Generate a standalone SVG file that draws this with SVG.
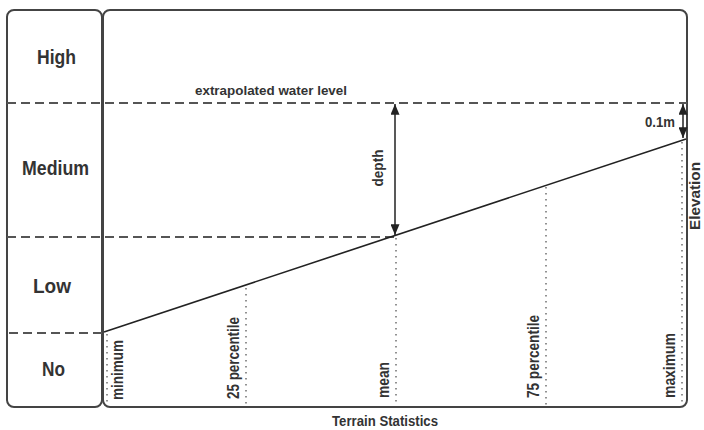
<svg xmlns="http://www.w3.org/2000/svg" width="704" height="430" viewBox="0 0 704 430">
<style>
.box{fill:none;stroke:#444;stroke-width:2}
.dash{fill:none;stroke:#555;stroke-width:2;stroke-dasharray:9 5}
.dot{fill:none;stroke:#777;stroke-width:1.6;stroke-dasharray:1.5 4.5}
.slope{fill:none;stroke:#222;stroke-width:1.6}
.arr{fill:none;stroke:#222;stroke-width:1.5}
.cat{font-family:"Liberation Sans",Arial,sans-serif;font-weight:bold;font-size:20px;fill:#333;text-anchor:middle}
.lbl{font-family:"Liberation Sans",Arial,sans-serif;font-weight:bold;font-size:13px;fill:#333}
.rot{font-family:"Liberation Sans",Arial,sans-serif;font-weight:bold;font-size:16px;fill:#333}
.ttl{font-family:"Liberation Sans",Arial,sans-serif;font-weight:bold;font-size:14px;fill:#333}
</style>
<defs>
<marker id="ah" viewBox="0 0 12 10" refX="12" refY="5" markerWidth="11" markerHeight="9" markerUnits="userSpaceOnUse" orient="auto-start-reverse">
<path d="M0,0 L12,5 L0,10 z" fill="#222"/>
</marker>
</defs>
<rect width="704" height="430" fill="#fff"/>
<g id="scale">
<rect class="box" x="7" y="10" width="95" height="397" rx="7"/>
<text class="cat" x="56.5" y="64" textLength="39" lengthAdjust="spacingAndGlyphs">High</text>
<text class="cat" x="55.5" y="175" textLength="67" lengthAdjust="spacingAndGlyphs">Medium</text>
<text class="cat" x="52" y="293" textLength="38" lengthAdjust="spacingAndGlyphs">Low</text>
<text class="cat" x="53.5" y="376" textLength="23" lengthAdjust="spacingAndGlyphs">No</text>
</g>
<g id="chart">
<rect class="box" x="103" y="10" width="584" height="397" rx="7"/>
<line class="dash" x1="7" y1="103" x2="687" y2="103"/>
<line class="dash" x1="7" y1="237" x2="395" y2="237"/>
<line class="dash" x1="9" y1="333" x2="104" y2="333"/>
<line class="slope" x1="104" y1="332" x2="686" y2="139"/>
<line class="dot" x1="107" y1="334" x2="107" y2="406"/>
<line class="dot" x1="246" y1="288" x2="246" y2="406"/>
<line class="dot" x1="396" y1="238" x2="396" y2="406"/>
<line class="dot" x1="546" y1="187" x2="546" y2="406"/>
<line class="dot" x1="682" y1="142" x2="682" y2="406"/>
<text class="lbl" x="195" y="95" textLength="152" lengthAdjust="spacingAndGlyphs">extrapolated water level</text>
<text class="rot" transform="translate(123,400) rotate(-90)" textLength="60" lengthAdjust="spacingAndGlyphs">minimum</text>
<text class="rot" transform="translate(239,399) rotate(-90)" textLength="82" lengthAdjust="spacingAndGlyphs">25 percentile</text>
<text class="rot" transform="translate(389,398) rotate(-90)" textLength="36" lengthAdjust="spacingAndGlyphs">mean</text>
<text class="rot" transform="translate(539,398) rotate(-90)" textLength="83" lengthAdjust="spacingAndGlyphs">75 percentile</text>
<text class="rot" transform="translate(675,398) rotate(-90)" textLength="65" lengthAdjust="spacingAndGlyphs">maximum</text>
<text class="ttl" transform="translate(383,168) rotate(-90)" text-anchor="middle" textLength="37" lengthAdjust="spacingAndGlyphs">depth</text>
<text class="ttl" x="645" y="127" textLength="30" lengthAdjust="spacingAndGlyphs">0.1m</text>
<text class="ttl" transform="translate(700,196) rotate(-90)" text-anchor="middle" textLength="68" lengthAdjust="spacingAndGlyphs">Elevation</text>
<text class="ttl" x="332" y="426" textLength="106" lengthAdjust="spacingAndGlyphs">Terrain Statistics</text>
</g>
<g id="connectors">
<line class="arr" x1="395" y1="104" x2="395" y2="235" marker-start="url(#ah)" marker-end="url(#ah)"/>
<line class="arr" x1="683" y1="104" x2="683" y2="138" marker-start="url(#ah)" marker-end="url(#ah)"/>
</g>
</svg>
